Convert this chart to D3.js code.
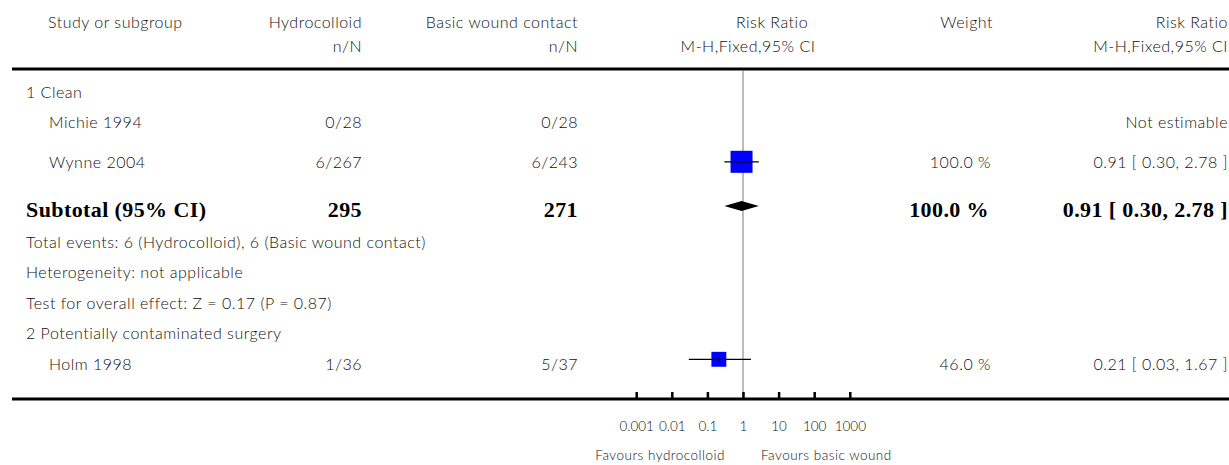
<!DOCTYPE html>
<html><head><meta charset="utf-8">
<script src="https://cdn.jsdelivr.net/npm/d3@7"></script>
<style>
html,body{margin:0;padding:0;background:#fff;overflow:hidden;}
svg{display:block;}
.t{font-family:Lato,"Open Sans",sans-serif;font-weight:300;fill:#111;letter-spacing:0.5px;}
.b{font-family:"Liberation Serif","DejaVu Serif",serif;font-weight:bold;fill:#000;letter-spacing:0.4px;}
.tk{font-family:Lato,"Open Sans",sans-serif;font-weight:300;fill:#111;letter-spacing:0px;}
</style></head>
<body>
<svg id="c" width="1229" height="465"></svg>
<script>
// ---- data ----
const studies = ["Michie 1994", "Wynne 2004", "Holm 1998"];
const hydroEvents = ["0/28", "6/267", "1/36"];
const basicEvents = ["0/28", "6/243", "5/37"];
const rrEst = [null, 0.91, 0.21];
const rrLow = [null, 0.30, 0.03];
const rrHigh = [null, 2.78, 1.67];
const weights = [null, 100.0, 46.0];
const subgroups = ["1 Clean", "2 Potentially contaminated surgery"];
const subtotalN = [295, 271];
const subtotalRR = [0.91, 0.30, 2.78];
const subtotalWeight = 100.0;
const subtotalNotes = ["Total events: 6 (Hydrocolloid), 6 (Basic wound contact)",
  "Heterogeneity: not applicable",
  "Test for overall effect: Z = 0.17 (P = 0.87)"];
const tickValues = [0.001, 0.01, 0.1, 1, 10, 100, 1000];
const tickLabels = ["0.001", "0.01", "0.1", "1", "10", "100", "1000"];
const headers1 = ["Study or subgroup", "Hydrocolloid", "Basic wound contact", "Risk Ratio", "Weight", "Risk Ratio"];
const headers2 = ["", "n/N", "n/N", "M-H,Fixed,95% CI", "", "M-H,Fixed,95% CI"];
const favours = ["Favours hydrocolloid", "Favours basic wound"];

// ---- layout ----
const svg = d3.select("#c");
const FS = 16;
const colX = {study: 49, group: 26, hydro: 362, basic: 578, weight: 991, rr: 1228};
const x = d3.scaleLog().domain([0.001, 1000]).range([636.2, 849.8]);
const fmt2 = d3.format(".2f");
const fmtW = d => d3.format(".1f")(d) + " %";
const rrText = (e, l, h) => `${fmt2(e)} [ ${fmt2(l)}, ${fmt2(h)} ]`;

function txt(xp, y, s, anchor, cls, size) {
  return svg.append("text").attr("class", cls || "t").attr("x", xp).attr("y", y)
    .attr("text-anchor", anchor || "start").style("font-size", (size || FS) + "px").text(s);
}

// headers
const h1x = [48, colX.hydro, colX.basic, 772, 993, 1228];
const h1a = ["start", "end", "end", "middle", "end", "end"];
const h2x = [0, colX.hydro, colX.basic, 748, 0, 1228];
headers1.forEach((h, i) => txt(h1x[i], 28, h, h1a[i]));
headers2.forEach((h, i) => { if (h) txt(h2x[i], 52, h, h1a[i]); });

// thick rules
const topRule = 69, bottomRule = 399;
svg.append("line").attr("x1", 12).attr("x2", 1229).attr("y1", topRule).attr("y2", topRule)
  .attr("stroke", "#000").attr("stroke-width", 3);
svg.append("line").attr("x1", 12).attr("x2", 1229).attr("y1", bottomRule).attr("y2", bottomRule)
  .attr("stroke", "#000").attr("stroke-width", 3);

// line of no effect
svg.append("line").attr("x1", x(1)).attr("x2", x(1)).attr("y1", topRule + 2).attr("y2", bottomRule - 1)
  .attr("stroke", "#7a7a7a").attr("stroke-width", 1);

// rows
const base = {g1: 98, s0: 128, s1: 168, sub: 217, n0: 247.5, n1: 278, n2: 308.5, g2: 339, s2: 370};
const markOffset = [0, 6.2, 10.7];

txt(colX.group, base.g1, subgroups[0]);
txt(colX.group, base.g2, subgroups[1]);

studies.forEach((s, i) => {
  const y = base["s" + i];
  txt(colX.study, y, s);
  txt(colX.hydro, y, hydroEvents[i], "end");
  txt(colX.basic, y, basicEvents[i], "end");
  if (rrEst[i] == null) {
    txt(colX.rr, y, "Not estimable", "end");
  } else {
    txt(colX.weight, y, fmtW(weights[i]), "end");
    txt(colX.rr, y, rrText(rrEst[i], rrLow[i], rrHigh[i]), "end");
    const cy = y - markOffset[i];
    const sz = 22 * Math.sqrt(weights[i] / 100);
    svg.append("rect").attr("x", x(rrEst[i]) - sz / 2).attr("y", cy - sz / 2)
      .attr("width", sz).attr("height", sz).attr("fill", "#0000ff");
    svg.append("line").attr("x1", x(rrLow[i])).attr("x2", x(rrHigh[i])).attr("y1", cy).attr("y2", cy)
      .attr("stroke", "#000").attr("stroke-width", 1.3);
    svg.append("line").attr("x1", x(rrEst[i])).attr("x2", x(rrEst[i])).attr("y1", cy - 2).attr("y2", cy + 2)
      .attr("stroke", "#000").attr("stroke-width", 1);
  }
});

// subtotal
const BS = 22;
txt(colX.group, base.sub, "Subtotal (95% CI)", "start", "b", BS);
txt(colX.hydro, base.sub, subtotalN[0], "end", "b", BS);
txt(colX.basic, base.sub, subtotalN[1], "end", "b", BS);
txt(989, base.sub, fmtW(subtotalWeight), "end", "b", BS);
txt(colX.rr, base.sub, rrText(...subtotalRR), "end", "b", BS);
const dy = base.sub - 11;
svg.append("path").attr("fill", "#000")
  .attr("d", `M${x(subtotalRR[1])},${dy} L${x(subtotalRR[0])},${dy - 5} L${x(subtotalRR[2])},${dy} L${x(subtotalRR[0])},${dy + 5} Z`);
subtotalNotes.forEach((n, i) => txt(colX.group, base["n" + i], n));

// axis
const axis = d3.axisBottom(x).tickValues(tickValues)
  .tickFormat((d, i) => tickLabels[i]).tickSizeInner(-7).tickSizeOuter(0).tickPadding(22);
const ag = svg.append("g").attr("transform", `translate(0,${bottomRule})`).call(axis);
ag.select(".domain").remove();
ag.selectAll(".tick line").attr("stroke", "#000").attr("stroke-width", 2.5);
ag.selectAll(".tick text").attr("class", "tk").style("font-size", "13.5px").attr("fill", "#111");

txt(x(1) - 18, 460, favours[0], "end", "t", 13.5);
txt(x(1) + 18, 460, favours[1], "start", "t", 13.5);
</script>
</body></html>
